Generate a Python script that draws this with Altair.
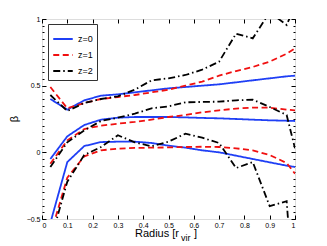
import altair as alt
import pandas as pd

# ---- data ----
radius = [0.033, 0.1, 0.167, 0.233, 0.3, 0.367, 0.433, 0.5, 0.567, 0.633, 0.7, 0.767, 0.833, 0.9, 0.967, 1.0]

z0_upper = [0.40, 0.32, 0.39, 0.425, 0.435, 0.45, 0.465, 0.48, 0.49, 0.50, 0.51, 0.525, 0.54, 0.555, 0.57, 0.575]
z0_mid   = [-0.05, 0.12, 0.205, 0.245, 0.26, 0.265, 0.265, 0.265, 0.262, 0.258, 0.255, 0.25, 0.245, 0.24, 0.237, 0.235]
z0_lower = [-0.53, -0.073, 0.047, 0.077, 0.08, 0.08, 0.07, 0.05, 0.035, 0.015, 0.0, -0.025, -0.05, -0.075, -0.1, -0.11]

z1_upper = [0.49, 0.33, 0.37, 0.40, 0.415, 0.43, 0.45, 0.47, 0.50, 0.53, 0.575, 0.61, 0.64, 0.68, 0.74, 0.78]
z1_mid   = [-0.085, 0.09, 0.175, 0.20, 0.215, 0.228, 0.245, 0.265, 0.28, 0.30, 0.315, 0.328, 0.336, 0.335, 0.32, 0.315]
z1_lower = [-0.62, -0.19, -0.03, 0.015, 0.028, 0.033, 0.035, 0.037, 0.04, 0.042, 0.04, 0.03, 0.015, -0.02, -0.08, -0.16]

z2_upper = [0.43, 0.31, 0.37, 0.40, 0.42, 0.47, 0.54, 0.555, 0.58, 0.62, 0.68, 0.89, 0.855, 1.05, 0.955, 1.1]
z2_mid   = [-0.11, 0.075, 0.165, 0.235, 0.26, 0.29, 0.33, 0.345, 0.375, 0.378, 0.38, 0.39, 0.395, 0.34, 0.28, 0.03]
z2_lower = [-0.67, -0.22, -0.02, 0.04, 0.128, 0.075, 0.045, 0.08, 0.14, 0.11, 0.07, -0.118, -0.073, -0.404, -0.366, -1.2]

series = {
    ("z=0", "upper"): z0_upper, ("z=0", "mid"): z0_mid, ("z=0", "lower"): z0_lower,
    ("z=1", "upper"): z1_upper, ("z=1", "mid"): z1_mid, ("z=1", "lower"): z1_lower,
    ("z=2", "upper"): z2_upper, ("z=2", "mid"): z2_mid, ("z=2", "lower"): z2_lower,
}

x_ticks = [round(0.1 * i, 1) for i in range(11)]
y_ticks = [-0.5, 0, 0.5, 1]
y_minor = [round(-0.5 + 0.05 * i, 2) for i in range(31)]

rows = []
for (z, band), vals in series.items():
    for r, b in zip(radius, vals):
        rows.append({"r": r, "beta": b, "z": z, "band": band, "line": z + band})
df = pd.DataFrame(rows)

FONT = "Liberation Sans"
xscale = alt.Scale(domain=[0, 1], nice=False)
yscale = alt.Scale(domain=[-0.5, 1], nice=False)

color_scale = alt.Scale(domain=["z=0", "z=1", "z=2"], range=["#1f3ff5", "#f01010", "#000000"])
dash_scale = alt.Scale(domain=["z=0", "z=1", "z=2"], range=[[1, 0], [6, 3.5], [7, 3, 1.5, 3]])

def ax(orient, values, labels=True, tick=4, fmt="~g"):
    kw = dict(orient=orient, values=values, title=None, domain=False, offset=-tick,
              tickSize=tick, tickColor="black", tickWidth=1, grid=False, labels=labels)
    if labels:
        kw.update(labelFont=FONT, labelFontSize=7, labelColor="black", labelPadding=2, format=fmt)
    return alt.Axis(**kw)

leg = alt.Legend(
    title=None, orient="none", legendX=6, legendY=5, fillColor="white", strokeColor="#333",
    padding=4, symbolType="stroke", symbolSize=380, symbolStrokeWidth=2,
    labelFont=FONT, labelFontSize=9, labelColor="black", rowPadding=0,
)

lines = alt.Chart(df).mark_line(strokeWidth=1.8, clip=True).encode(
    x=alt.X("r:Q", scale=xscale, axis=ax("bottom", x_ticks)),
    y=alt.Y("beta:Q", scale=yscale, axis=ax("left", y_ticks)),
    color=alt.Color("z:N", scale=color_scale, legend=leg),
    strokeDash=alt.StrokeDash("z:N", scale=dash_scale, legend=leg),
    detail="line:N",
    order="r:Q",
)

tick_df = pd.DataFrame({"r": [0.5], "beta": [0.25]})
top_right = alt.Chart(tick_df).mark_point(opacity=0).encode(
    x=alt.X("r:Q", scale=xscale, axis=ax("top", x_ticks, labels=False)),
    y=alt.Y("beta:Q", scale=yscale, axis=ax("right", y_ticks, labels=False)),
)
minor_left = alt.Chart(tick_df).mark_point(opacity=0).encode(
    y=alt.Y("beta:Q", scale=yscale, axis=ax("left", y_minor, labels=False, tick=2)),
)
minor_right = alt.Chart(tick_df).mark_point(opacity=0).encode(
    y=alt.Y("beta:Q", scale=yscale, axis=ax("right", y_minor, labels=False, tick=2)),
)

def txt(s, x, y, size, align="left", angle=0):
    return alt.Chart(pd.DataFrame({"t": [s]})).mark_text(
        font=FONT, fontSize=size, align=align, baseline="alphabetic", angle=angle, color="black"
    ).encode(text="t:N", x=alt.value(x), y=alt.value(y))

title_main = txt("Radius [r", 137, 218, 11, align="right")
title_sub = txt("vir", 139, 222, 9)
title_end = txt("]", 152, 218, 11)
ylab = txt("β", -24, 100, 11, align="center", angle=270)

chart = alt.layer(
    lines, top_right, minor_left, minor_right, title_main, title_sub, title_end, ylab
).resolve_axis(x="independent", y="independent").properties(
    width=253, height=200,
    autosize=alt.AutoSizeParams(type="none"),
    padding={"left": 34, "top": 11, "right": 24, "bottom": 27},
).configure_view(stroke="black", strokeWidth=1).configure(background="white")

chart.save("out.html", embed_options={"renderer": "svg", "actions": False})
